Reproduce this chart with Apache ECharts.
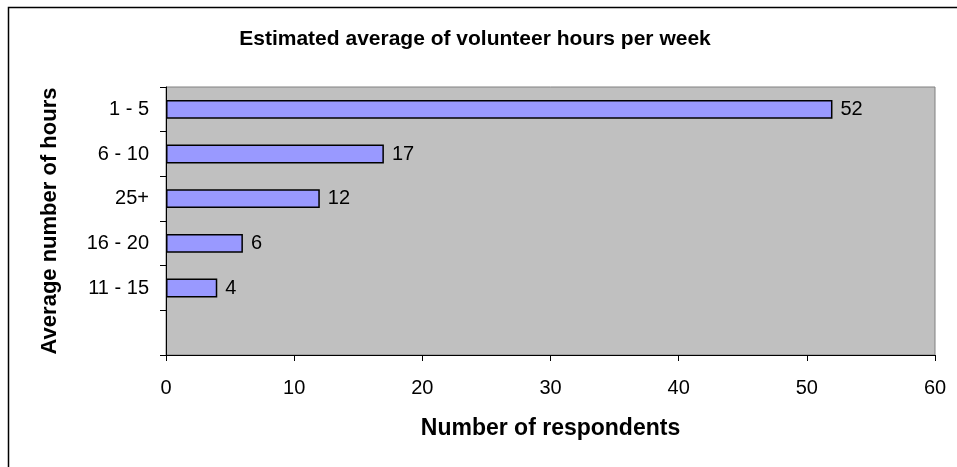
<!DOCTYPE html>
<html>
<head>
<meta charset="utf-8">
<script src="https://cdn.jsdelivr.net/npm/echarts@6/dist/echarts.min.js"></script>
<style>
  html, body { margin: 0; padding: 0; background: #fff; }
  #chart { width: 957px; height: 467px; }
</style>
</head>
<body>
<div id="chart"></div>
<script>
// Hour ranges, listed top to bottom; the last slot is left empty
const hourRanges = ['1 - 5', '6 - 10', '25+', '16 - 20', '11 - 15', ''];
const respondents = [52, 17, 12, 6, 4, null];
const xTicks = { min: 0, max: 60, interval: 10 };

const FONT = '"Liberation Sans", Arial, sans-serif';

const chart = echarts.init(document.getElementById('chart'), null, { renderer: 'canvas' });

chart.setOption({
  animation: false,
  backgroundColor: '#ffffff',
  title: {
    text: 'Estimated average of volunteer hours per week',
    left: 470,
    top: 24,
    textAlign: 'center',
    textStyle: { fontFamily: FONT, fontSize: 21, fontWeight: 'bold', color: '#000' }
  },
  graphic: [{
    type: 'rect',
    shape: { x: 8.5, y: 7.5, width: 1000, height: 1000 },
    style: { fill: null, stroke: '#000', lineWidth: 1.5 },
    silent: true,
    z: -1
  }],
  grid: {
    left: 166, top: 87, right: 22, bottom: 112,
    show: true,
    backgroundColor: '#C0C0C0',
    borderColor: '#808080',
    borderWidth: 1
  },
  xAxis: {
    type: 'value',
    min: xTicks.min, max: xTicks.max, interval: xTicks.interval,
    name: 'Number of respondents',
    nameLocation: 'middle',
    nameGap: 62,
    nameTextStyle: { fontFamily: FONT, fontSize: 23, fontWeight: 'bold', color: '#000' },
    axisLine: { show: true, lineStyle: { color: '#000', width: 1 } },
    axisTick: { show: true, length: 6, inside: false, lineStyle: { color: '#000' } },
    axisLabel: { fontFamily: FONT, fontSize: 20, color: '#000', margin: 23 },
    splitLine: { show: false }
  },
  yAxis: {
    type: 'category',
    inverse: true,
    data: hourRanges,
    name: 'Average number of hours',
    nameLocation: 'middle',
    nameGap: 105,
    nameRotate: 90,
    nameTextStyle: { fontFamily: FONT, fontSize: 22, fontWeight: 'bold', color: '#000' },
    axisLine: { show: true, lineStyle: { color: '#000', width: 1 } },
    axisTick: { show: true, length: 6, alignWithLabel: false, lineStyle: { color: '#000' } },
    axisLabel: { fontFamily: FONT, fontSize: 20, color: '#000', margin: 17 },
    splitLine: { show: false }
  },
  series: [{
    type: 'bar',
    data: respondents,
    barWidth: '42%',
    itemStyle: { color: '#9999FF', borderColor: '#000', borderWidth: 1.5 },
    label: {
      show: true,
      position: 'right',
      distance: 8,
      fontFamily: FONT,
      fontSize: 20,
      color: '#000'
    }
  }]
});
</script>
</body>
</html>
